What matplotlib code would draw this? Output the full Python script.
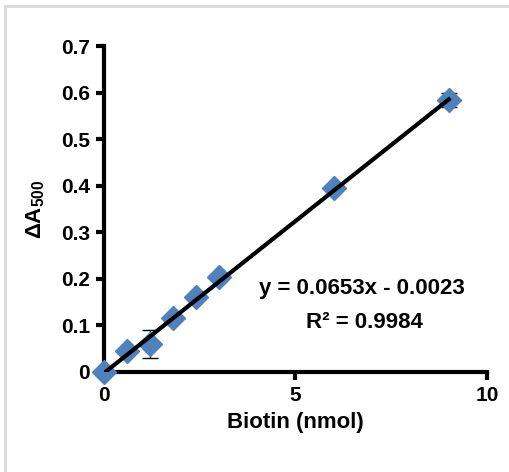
import matplotlib
matplotlib.use("Agg")
import matplotlib.pyplot as plt
import numpy as np

plt.rcParams['font.family'] = ['Liberation Sans', 'DejaVu Sans']
plt.rcParams['font.weight'] = 'bold'
plt.rcParams['mathtext.fontset'] = 'custom'
plt.rcParams['mathtext.rm'] = 'Liberation Sans:bold'
plt.rcParams['mathtext.bf'] = 'Liberation Sans:bold'
plt.rcParams['mathtext.it'] = 'Liberation Sans:bold'

biotin = [0, 0.6, 1.2, 1.8, 2.4, 3.0, 6.0, 9.0]
delta_a = [0.0, 0.045, 0.06, 0.115, 0.16, 0.205, 0.395, 0.585]
errors = [0.0, 0.0, 0.03, 0.0, 0.0, 0.0, 0.0, 0.015]
slope = 0.0653
intercept = -0.0023
r2 = 0.9984

fig = plt.figure(figsize=(5.09, 4.72), dpi=100)
fig.patch.set_facecolor('white')
# light gray frame lines (top and left)
fig.add_artist(plt.Line2D([0.01, 1.0], [0.987, 0.987], color='#d9d9d9', lw=2, transform=fig.transFigure))
fig.add_artist(plt.Line2D([0.01, 0.01], [0.0, 0.987], color='#d9d9d9', lw=2, transform=fig.transFigure))

ax = fig.add_axes([0.2043, 0.2119, 0.7525, 0.6906])
ax.errorbar(biotin, delta_a, yerr=errors, fmt='none', ecolor='black', elinewidth=1, capsize=6, zorder=2)
ax.plot(biotin, delta_a, linestyle='none', marker='D', markersize=12, color='#4F81BD', zorder=3, clip_on=False)
xf = np.array([min(biotin), max(biotin)])
ax.plot(xf, slope * xf + intercept, color='black', lw=3, zorder=4)

ax.set_xlim(0, 10)
ax.set_ylim(0, 0.7)
ax.set_xticks([0, 5, 10])
ax.set_yticks([0, 0.1, 0.2, 0.3, 0.4, 0.5, 0.6, 0.7])
ax.set_yticklabels(['0', '0.1', '0.2', '0.3', '0.4', '0.5', '0.6', '0.7'])
for s in ['top', 'right']:
    ax.spines[s].set_visible(False)
for s in ['left', 'bottom']:
    ax.spines[s].set_linewidth(3)
ax.tick_params(axis='both', direction='out', length=6, width=3, labelsize=15, pad=4)
for lab in ax.get_xticklabels() + ax.get_yticklabels():
    lab.set_fontweight('bold')
ax.set_xlabel('Biotin (nmol)', fontsize=16, fontweight='bold', labelpad=5)
ax.set_ylabel(r'$\mathbf{\Delta A_{500}}$', fontsize=16, labelpad=10)
ax.text(6.72, 0.18, 'y = %.4fx - %.4f' % (slope, -intercept), fontsize=16, fontweight='bold',
        ha='center', va='center')
ax.text(6.8, 0.107, 'R\u00b2 = %.4f' % r2, fontsize=16, fontweight='bold', ha='center', va='center')

fig.savefig('out.png', dpi=100)
